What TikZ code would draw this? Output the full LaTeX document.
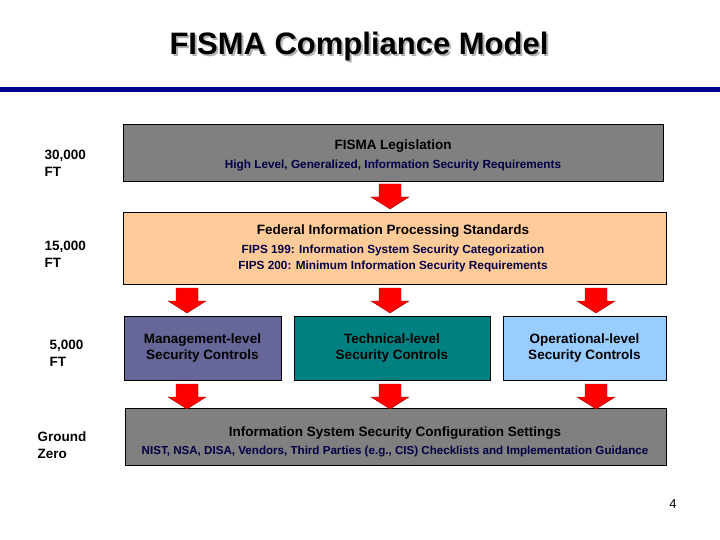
\documentclass[tikz,border=0pt]{standalone}
\usepackage{fontspec}
\setmainfont{Liberation Sans}
\begin{document}
\begin{tikzpicture}[x=1pt,y=-1pt,font=\bfseries,
 box/.style={draw=black,line width=0.6pt,inner sep=0pt},
 hd/.style={font=\bfseries\fontsize{13.5}{16}\selectfont,text=black},
 sm/.style={font=\bfseries\fontsize{11.8}{16}\selectfont,text=black!30!blue!40!black,align=center},
 lab/.style={font=\bfseries\fontsize{13.5}{17}\selectfont,align=left,anchor=west},
 rarrow/.style={fill=red,draw=red!60!black,line width=0.4pt}]
\useasboundingbox (0,0) rectangle (720,540);
\node[font=\bfseries\fontsize{31}{36}\selectfont,text=gray!60] at (361,48) {FISMA Compliance Model};
\node[font=\bfseries\fontsize{31}{36}\selectfont] (title) at (359,46) {FISMA Compliance Model};
\fill[blue!55!black] (0,87) rectangle (720,92);
\definecolor{gbox}{HTML}{808080}
\definecolor{peach}{HTML}{FFCC99}
\definecolor{slate}{HTML}{666699}
\definecolor{teal2}{HTML}{008080}
\definecolor{lblue}{HTML}{99CCFF}
\node[box,fill=gbox,minimum width=540,minimum height=57] (leg) at (393,152.5) {};
\node[hd] at (393,146) {FISMA Legislation};
\node[sm] at (393,165) {High Level, Generalized, Information Security Requirements};
\node[box,fill=peach,minimum width=543,minimum height=72] (fips) at (394.5,248) {};
\node[hd] at (393,231) {Federal Information Processing Standards};
\node[sm] at (393,258) {FIPS 199: Information System Security Categorization\\FIPS 200: Minimum Information Security Requirements};
\node[box,fill=slate,minimum width=157,minimum height=64,hd,align=center,text=black] (mg) at (202.5,348) {Management-level\\Security Controls};
\node[box,fill=teal2,minimum width=196,minimum height=64,hd,align=center,text=black] (tc) at (392,348) {Technical-level\\Security Controls};
\node[box,fill=lblue,minimum width=163,minimum height=64,hd,align=center,text=black] (op) at (584.5,348) {Operational-level\\Security Controls};
\node[box,fill=gbox,minimum width=541,minimum height=57] (cfg) at (395.5,436.5) {};
\node[hd] at (395,433) {Information System Security Configuration Settings};
\node[sm,font=\bfseries\fontsize{11.6}{14}\selectfont] at (395,452) {NIST, NSA, DISA, Vendors, Third Parties (e.g., CIS) Checklists and Implementation Guidance};
\def\arr#1#2{\draw[rarrow] (#1-11,#2) -- (#1+11,#2) -- (#1+11,#2+13) -- (#1+19,#2+13) -- (#1,#2+25) -- (#1-19,#2+13) -- (#1-11,#2+13) -- cycle;}
\arr{390}{184}
\arr{187}{288}\arr{390}{288}\arr{596}{288}
\arr{187}{384}\arr{390}{384}\arr{596}{384}
\node[lab] (l1) at (41,163) {30,000\\FT};
\node[lab] (l2) at (41,254) {15,000\\FT};
\node[lab] (l3) at (46,353) {5,000\\FT};
\node[lab] (l4) at (34,445) {Ground\\Zero};
\node[font=\fontsize{13}{15}\selectfont] (pg) at (673,504) {4};
\end{tikzpicture}
\end{document}
